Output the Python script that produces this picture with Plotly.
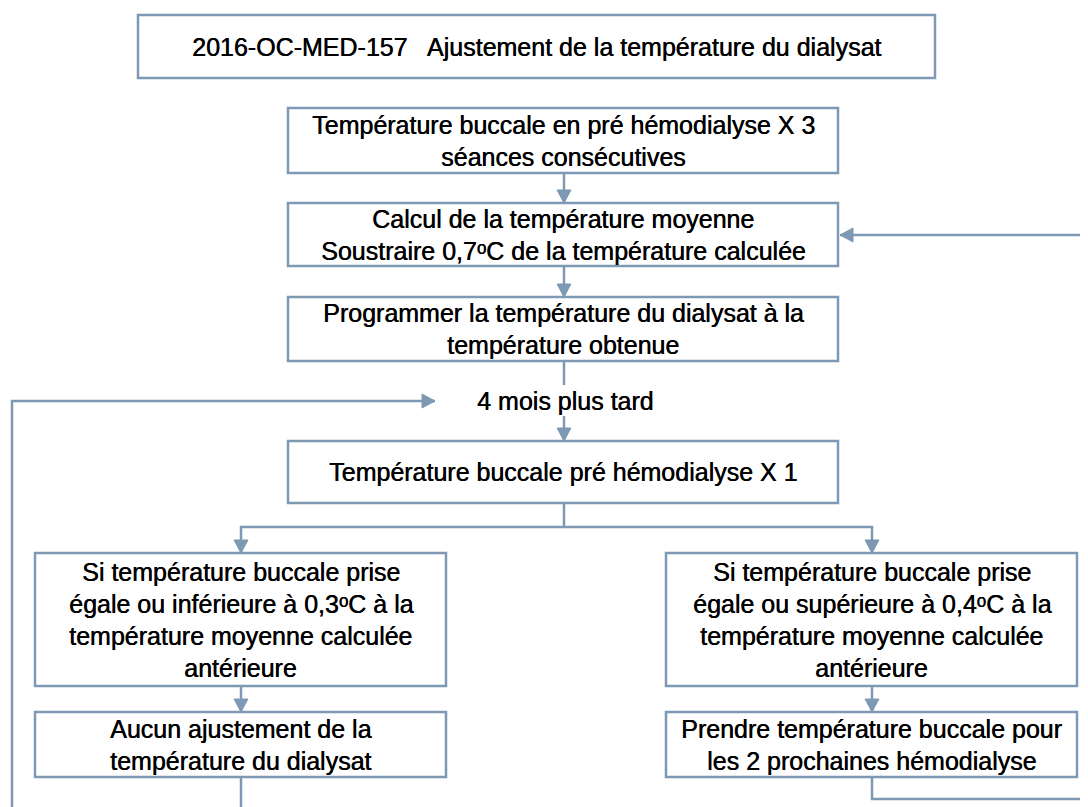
import plotly.graph_objects as go

# ---- text content ----
title_text = ["2016-OC-MED-157   Ajustement de la température du dialysat"]
step1_text = ["Température buccale en pré hémodialyse X 3", "séances consécutives"]
step2_text = ["Calcul de la température moyenne", "Soustraire 0,7ᵒC de la température calculée"]
step3_text = ["Programmer la température du dialysat à la", "température obtenue"]
delay_text = ["4 mois plus tard"]
step4_text = ["Température buccale pré hémodialyse X 1"]
left_cond_text = ["Si température buccale prise", "égale ou inférieure à 0,3ᵒC à la",
                  "température moyenne calculée", "antérieure"]
right_cond_text = ["Si température buccale prise", "égale ou supérieure à 0,4ᵒC à la",
                   "température moyenne calculée", "antérieure"]
left_action_text = ["Aucun ajustement de la", "température du dialysat"]
right_action_text = ["Prendre température buccale pour", "les 2 prochaines hémodialyse"]

W, H = 1088, 807
OFF = 8  # page body margin
LINE = "#7d99b4"
FONT = dict(family="Liberation Sans, Arial, sans-serif", size=25, color="#000000",
            shadow="0.5px 0 0 #000000")
LH = 32

fig = go.Figure()
shapes = []
annotations = []


def box(x0, y0, x1, y1, lines, show_box=True):
    if show_box:
        shapes.append(dict(type="rect", x0=x0, y0=y0, x1=x1, y1=y1, xref="x", yref="y",
                           line=dict(color=LINE, width=2.5), fillcolor="rgba(0,0,0,0)"))
    cx = (x0 + x1) / 2
    cy = (y0 + y1) / 2
    n = len(lines)
    for i, t in enumerate(lines):
        y = cy + (i - (n - 1) / 2) * LH
        annotations.append(dict(x=cx, y=y, xref="x", yref="y", text=t, showarrow=False,
                                font=FONT, xanchor="center", yanchor="middle"))


def seg(pts):
    path = "M " + " L ".join(f"{x},{y}" for x, y in pts)
    shapes.append(dict(type="path", path=path, xref="x", yref="y",
                       line=dict(color=LINE, width=2.5)))


def head(x, y, direction):
    L, Hw = 13, 7
    if direction == "down":
        pts = [(x, y), (x - Hw, y - L), (x + Hw, y - L)]
    elif direction == "right":
        pts = [(x, y), (x - L, y - Hw), (x - L, y + Hw)]
    else:  # left
        pts = [(x, y), (x + L, y - Hw), (x + L, y + Hw)]
    path = "M " + " L ".join(f"{a},{b}" for a, b in pts) + " Z"
    shapes.append(dict(type="path", path=path, xref="x", yref="y",
                       line=dict(color=LINE, width=1), fillcolor=LINE))


# boxes
box(138, 15, 935, 78, title_text)
box(288, 108, 838, 173, step1_text)
box(288, 203, 838, 266, step2_text)
box(288, 297, 838, 361, step3_text)
box(288, 441, 838, 503, step4_text)
box(35, 553, 446, 686, left_cond_text)
box(666, 553, 1077, 686, right_cond_text)
box(35, 712, 446, 777, left_action_text)
box(666, 712, 1077, 777, right_action_text)
annotations.append(dict(x=565, y=401, xref="x", yref="y", text=delay_text[0], showarrow=False,
                        font=FONT, xanchor="center", yanchor="middle"))

cx = 564
# vertical connectors
seg([(cx, 173), (cx, 203)]); head(cx, 203, "down")
seg([(cx, 266), (cx, 297)]); head(cx, 297, "down")
seg([(cx, 361), (cx, 385)])
seg([(cx, 416), (cx, 441)]); head(cx, 441, "down")
# branch
seg([(cx, 503), (cx, 527)])
seg([(241, 553), (241, 527), (872, 527), (872, 553)])
head(241, 553, "down"); head(872, 553, "down")
seg([(241, 686), (241, 712)]); head(241, 712, "down")
seg([(872, 686), (872, 712)]); head(872, 712, "down")
# outgoing / feedback
seg([(241, 777), (241, 820)])
seg([(872, 777), (872, 799), (1100, 799)])
seg([(1100, 235), (840, 235)]); head(840, 235, "left")
seg([(12, 820), (12, 401), (435, 401)]); head(435, 401, "right")

fig.update_layout(
    width=W, height=H,
    margin=dict(l=0, r=0, t=0, b=0),
    paper_bgcolor="white", plot_bgcolor="white",
    xaxis=dict(range=[OFF, W + OFF], visible=False, fixedrange=True),
    yaxis=dict(range=[H + OFF, OFF], visible=False, fixedrange=True),
    shapes=shapes, annotations=annotations, showlegend=False,
)

fig.write_html("out.html")
